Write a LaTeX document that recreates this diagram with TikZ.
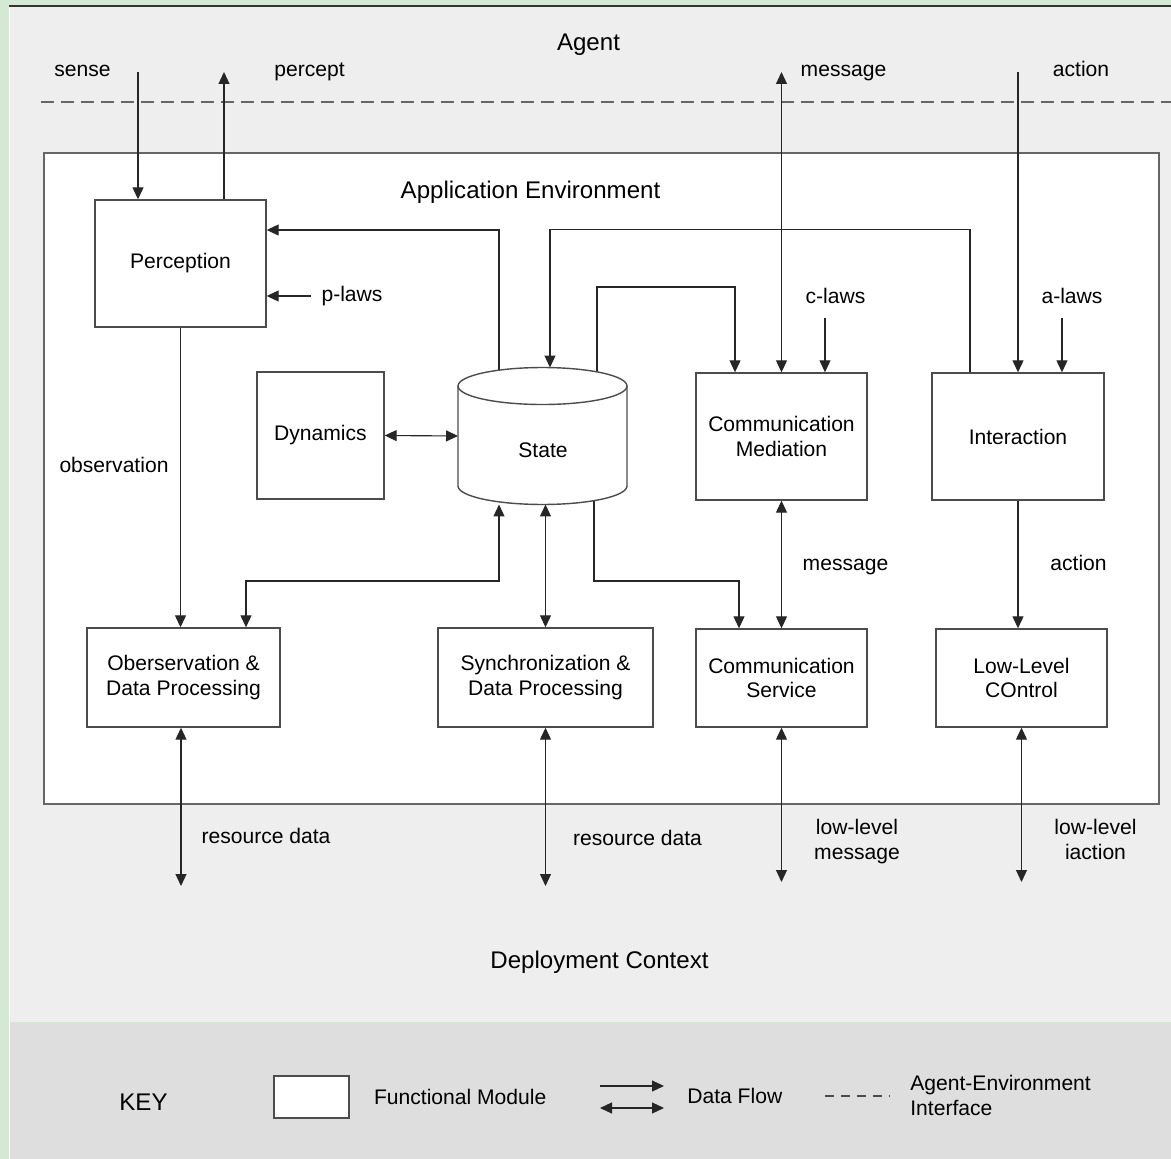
\documentclass[tikz,border=0pt]{standalone}
\usepackage{fontspec}
\setmainfont{Liberation Sans}
\usetikzlibrary{arrows.meta,positioning}

\definecolor{sidegreen}{HTML}{D5E8D4}
\definecolor{agentbg}{HTML}{EEEEEE}
\definecolor{keybg}{HTML}{DEDEDE}
\newcommand{\lblfont}{\fontsize{12}{14}\selectfont}
\newcommand{\ttlfont}{\fontsize{13.7}{16}\selectfont}

\begin{document}
\begin{tikzpicture}[
  x=0.02cm, y=-0.02cm,
  module/.style={
    rectangle, draw=black!70, fill=white, line width=0.8pt,
    inner sep=0pt, align=center, font=\lblfont
  },
  envbox/.style={rectangle, draw=black!60, fill=white, line width=1pt, inner sep=0pt},
  cyl/.style={draw=black!70, fill=white, line width=0.8pt},
  lbl/.style={inner sep=0pt, font=\lblfont, anchor=base},
  lbltwo/.style={inner sep=0pt, font=\lblfont, align=center},
  ttl/.style={inner sep=0pt, font=\ttlfont, anchor=base},
  flow/.style={-{Triangle[length=0.24cm,width=0.22cm]}, black!85, line width=0.65pt},
  biflow/.style={{Triangle[length=0.24cm,width=0.22cm]}-{Triangle[length=0.24cm,width=0.22cm]},
    black!85, line width=0.65pt},
  iface/.style={black!60, line width=0.8pt, dash pattern=on 0.26cm off 0.14cm},
]

% Frame and panels
\useasboundingbox (0,0) rectangle (1171,1159);
\fill[sidegreen] (0,0) rectangle (1171,1159);
\fill[agentbg] (9,6) rectangle (1171,1022);
\fill[keybg] (9,1023) rectangle (1171,1159);
\draw[white, line width=0.6pt] (9.5,6) -- (9.5,1159);
\draw[black!80, line width=0.8pt] (9,6) -- (1171,6);

% Agent-environment interface
\coordinate (ifleft) at (41,102);
\coordinate (ifright) at (1171,102);
\draw[iface] (ifleft) -- (ifright);

% Application environment
\node[envbox, minimum width=22.3cm, minimum height=13.02cm] (appenv) at (601.5,478.5) {};

% Titles
\node[ttl] (agent) at (588.5,51) {Agent};
\node[ttl] (apptitle) at (530.5,199) {Application Environment};
\node[ttl] (deploy) at (599.5,968) {Deployment Context};

% Modules
\node[module, minimum width=3.42cm, minimum height=2.54cm] (percep) at (180.5,263.5) {Perception};
\node[module, minimum width=2.54cm, minimum height=2.54cm] (dyn) at (320.5,435.5) {Dynamics};
\node[module, minimum width=3.42cm, minimum height=2.54cm] (cmed) at (781.5,436.5) {Communication\\Mediation};
\node[module, minimum width=3.44cm, minimum height=2.54cm] (inter) at (1018,436.5) {Interaction};
\node[module, minimum width=3.86cm, minimum height=1.98cm] (obs) at (183.5,677.5) {Oberservation \&\\Data Processing};
\node[module, minimum width=4.3cm, minimum height=1.98cm] (sync) at (545.5,677.5) {Synchronization \&\\Data Processing};
\node[module, minimum width=3.42cm, minimum height=1.96cm] (cserv) at (781.5,678) {Communication\\Service};
\node[module, minimum width=3.42cm, minimum height=1.96cm] (llc) at (1021.5,678) {Low-Level\\COntrol};

% State store (outline drawn after the flows)
\node[minimum width=3.38cm, minimum height=2.74cm, inner sep=0pt, outer sep=0pt] (state) at (542.5,436) {};

% Agent side
\coordinate (sensein) at (138,72);
\coordinate (perceptout) at (224,72);
\coordinate (msgout) at (782,72);
\coordinate (actin) at (1018,72);
\draw[flow] (sensein) -- (sensein |- percep.north);
\draw[flow] (perceptout |- percep.north) -- (perceptout);
\draw[biflow] (cmed.north) -- (cmed.north |- msgout);
\draw[flow] (actin) -- (inter.north);
\node[lbl] (senselbl) at (82.5,77) {sense};
\node[lbl] (perceptlbl) at (309.5,77) {percept};
\node[lbl] (msgtoplbl) at (843.5,77) {message};
\node[lbl] (acttoplbl) at (1081,77) {action};

% Laws
\node[lbl] (plaws) at (352,301) {p-laws};
\node[lbl] (claws) at (835.5,303) {c-laws};
\node[lbl] (alaws) at (1072,303) {a-laws};
\draw[flow] ([xshift=0.88cm,yshift=-0.65cm]percep.east) -- ([yshift=-0.65cm]percep.east);
\draw[flow] ([xshift=0.87cm,yshift=1.08cm]cmed.north) -- ([xshift=0.87cm]cmed.north);
\draw[flow] ([xshift=0.88cm,yshift=1.08cm]inter.north) -- ([xshift=0.88cm]inter.north);

% Loops round the state
\draw[flow] ([xshift=-0.87cm]state.center) |- ([yshift=0.67cm]percep.east);
\draw[flow] ([xshift=-0.96cm]inter.north) -- ++(0,-143) -| ([xshift=0.15cm]state.north);
\draw[flow] ([xshift=1.09cm]state.center) -- ++(0,-149) -| ([xshift=-0.93cm]cmed.north);
\draw[biflow] (dyn.east) -- (state.west);

% Down to the processing modules
\draw[flow] (percep.south) -- (percep.south |- obs.north);
\draw[biflow] ([xshift=-0.87cm]state.south) -- ++(0,76.5) -| ([xshift=1.25cm]obs.north);
\draw[biflow] (sync.north |- state.south) -- (sync.north);
\draw[flow] ([xshift=1.03cm]state.center) -- ++(0,145) -| ([xshift=-0.85cm]cserv.north);
\draw[biflow] (cmed.south) -- (cserv.north);
\draw[flow] (inter.south) -- (inter.south |- llc.north);

% State outline
\draw[cyl] ([yshift=-0.37cm]state.north west) -- ([yshift=0.37cm]state.south west)
  arc[start angle=180, end angle=360, x radius=1.69cm, y radius=0.37cm]
  -- ([yshift=-0.37cm]state.north east);
\draw[cyl] ([yshift=-0.37cm]state.north) ellipse [x radius=1.69cm, y radius=0.37cm];
\node[lbl] (statetxt) at (543,457) {State};

% Flow labels
\node[lbl] (obslbl) at (114,472.5) {observation};
\node[lbl] (msglbl) at (845.5,570) {message};
\node[lbl] (actlbl) at (1078.5,570) {action};

% Deployment side
\coordinate (rdobs) at (181,886);
\coordinate (rdsync) at (546,886);
\coordinate (llmsg) at (782,882);
\coordinate (llact) at (1022,882);
\draw[biflow] (obs.south -| rdobs) -- (rdobs);
\draw[biflow] (sync.south) -- (sync.south |- rdsync);
\draw[biflow] (cserv.south) -- (cserv.south |- llmsg);
\draw[biflow] (llc.south) -- (llc.south |- llact);
\node[lbl] (rdlbl) at (266,843) {resource data};
\node[lbl] (rdlbltwo) at (637.5,845) {resource data};
\node[lbltwo] (llmsglbl) at (857,841.5) {low-level\\message};
\node[lbltwo] (llactlbl) at (1095.5,839.5) {low-level\\iaction};

% Key
\node[ttl] (key) at (143.5,1110) {KEY};
\node[module, minimum width=1.5cm, minimum height=0.84cm] (keybox) at (311.5,1097) {};
\node[lbl, right=0.48cm of keybox] (keymod) {Functional Module};
\coordinate (kone) at (600,1086);
\coordinate (ktwo) at (664,1086);
\coordinate (kthree) at (600,1108);
\coordinate (kfour) at (664,1108);
\draw[flow] (kone) -- (ktwo);
\draw[biflow] (kthree) -- (kfour);
\node[lbl, anchor=west] (keyflow) at (687,1095.5) {Data Flow};
\coordinate (kdl) at (825,1096);
\coordinate (kdr) at (890,1096);
\draw[black!70, line width=0.6pt, dash pattern=on 0.18cm off 0.14cm] (kdl) -- (kdr);
\node[lbltwo, align=left, anchor=west] (keyif) at (910,1095.5) {Agent-Environment\\Interface};

\end{tikzpicture}
\end{document}
